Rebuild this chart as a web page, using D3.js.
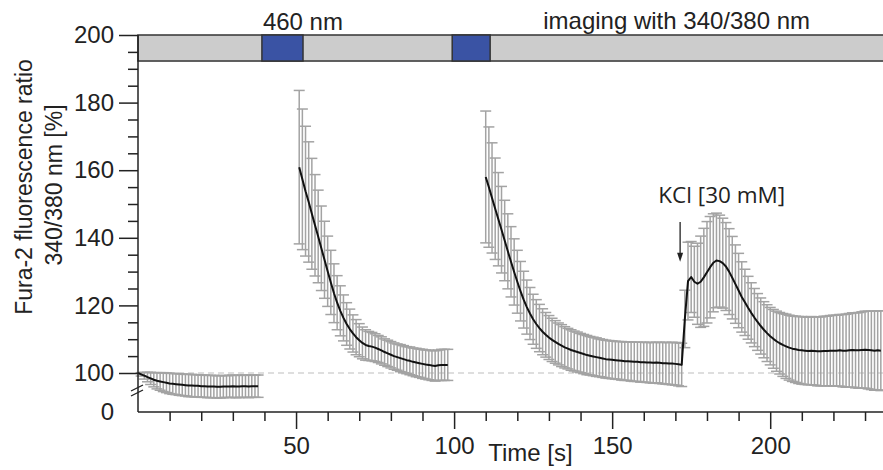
<!DOCTYPE html>
<html>
<head>
<meta charset="utf-8">
<script src="https://cdn.jsdelivr.net/npm/d3@7"></script>
<style>
body { margin: 0; background: #fff; }
svg text { font-family: "Liberation Sans", Arial, sans-serif; fill: #222; }
</style>
</head>
<body>
<div id="chart"></div>
<script>
//Recordings, one sample per second: first time point, mean ratio [%] and SD
var seg1Start = 0;
var seg1Mean = [100.0, 99.6, 99.2, 98.8, 98.4, 98.0, 97.7, 97.5, 97.3, 97.1,
	96.9, 96.8, 96.7, 96.6, 96.5, 96.4, 96.3, 96.3, 96.2, 96.2,
	96.1, 96.1, 96.0, 96.0, 96.0, 95.9, 95.9, 96.0, 96.0, 96.0,
	96.1, 96.0, 96.0, 96.1, 96.1, 96.0, 96.1, 96.1, 96.1];
var seg1Sd = [0.0, 0.5, 1.0, 1.4, 1.8, 2.1, 2.4, 2.6, 2.8, 2.9,
	3.0, 3.1, 3.1, 3.2, 3.2, 3.2, 3.3, 3.3, 3.3, 3.3,
	3.3, 3.3, 3.3, 3.3, 3.3, 3.3, 3.3, 3.3, 3.2, 3.3,
	3.3, 3.3, 3.3, 3.3, 3.3, 3.3, 3.3, 3.3, 3.3];

var seg2Start = 51;
var seg2Mean = [160.9, 157.3, 153.8, 150.6, 147.1, 143.7, 140.4, 136.9, 133.5, 130.1,
	126.8, 123.6, 120.8, 118.4, 116.3, 114.5, 113.0, 111.7, 110.6, 109.7,
	108.9, 108.3, 108.0, 107.8, 107.5, 107.1, 106.7, 106.2, 105.8, 105.4,
	105.0, 104.7, 104.4, 104.1, 103.8, 103.6, 103.3, 103.1, 102.9, 102.7,
	102.5, 102.4, 102.2, 102.1, 102.3, 102.4, 102.4, 102.4];
var seg2Sd = [22.7, 20.8, 19.2, 17.8, 16.4, 15.0, 13.7, 12.5, 11.4, 10.4,
	9.5, 8.7, 8.0, 7.4, 6.8, 6.3, 5.9, 5.5, 5.2, 4.9,
	4.7, 4.5, 4.3, 4.2, 4.1, 4.0, 4.0, 3.9, 3.9, 3.9,
	3.9, 3.9, 4.0, 4.0, 4.0, 4.1, 4.1, 4.2, 4.2, 4.3,
	4.3, 4.4, 4.4, 4.5, 4.5, 4.6, 4.6, 4.6];

var seg3Start = 110;
var seg3Mean = [158.0, 155.0, 151.8, 148.6, 145.5, 142.4, 139.2, 136.0, 132.9, 129.9,
	127.0, 124.2, 121.7, 119.5, 117.6, 115.9, 114.5, 113.3, 112.2, 111.3,
	110.5, 109.8, 109.2, 108.6, 108.1, 107.6, 107.2, 106.8, 106.5, 106.2,
	105.9, 105.6, 105.3, 105.1, 104.9, 104.7, 104.5, 104.3, 104.1, 104.0,
	103.9, 103.8, 103.7, 103.6, 103.5, 103.5, 103.4, 103.3, 103.3, 103.2,
	103.2, 103.1, 103.1, 103.0, 103.1, 103.0, 102.9, 102.9, 102.8, 102.8,
	102.7, 102.6, 102.4, 116.0, 127.2, 128.4, 127.0, 126.4, 127.0, 128.3,
	129.8, 131.3, 132.6, 133.3, 133.1, 132.5, 131.5, 130.0, 128.2, 126.3,
	124.4, 122.5, 120.9, 119.3, 117.8, 116.4, 115.1, 113.9, 112.8, 111.8,
	110.9, 110.1, 109.4, 108.8, 108.3, 107.9, 107.5, 107.2, 107.0, 106.8,
	106.7, 106.6, 106.5, 106.6, 106.5, 106.4, 106.4, 106.5, 106.5, 106.6,
	106.6, 106.6, 106.7, 106.6, 106.6, 106.7, 106.8, 106.7, 106.7, 106.8,
	106.9, 106.8, 106.7, 106.6, 106.7, 106.6];
var seg3Sd = [19.5, 17.8, 16.3, 15.0, 13.8, 12.8, 11.9, 11.1, 10.4, 9.8,
	9.3, 8.8, 8.4, 8.0, 7.7, 7.4, 7.2, 7.0, 6.8, 6.6,
	6.5, 6.4, 6.3, 6.2, 6.2, 6.1, 6.0, 6.0, 5.9, 5.9,
	5.8, 5.8, 5.8, 5.7, 5.7, 5.7, 5.6, 5.6, 5.6, 5.6,
	5.6, 5.6, 5.6, 5.7, 5.7, 5.7, 5.8, 5.8, 5.8, 5.9,
	5.9, 5.9, 6.0, 6.0, 6.0, 6.1, 6.1, 6.2, 6.2, 6.3,
	6.3, 6.4, 6.4, 8.5, 11.5, 10.5, 10.5, 12.0, 13.5, 14.5,
	15.0, 15.0, 14.5, 14.0, 13.6, 13.3, 13.0, 12.7, 12.2, 11.6,
	11.0, 10.4, 9.8, 9.3, 8.9, 8.6, 8.4, 8.3, 8.3, 8.4,
	8.5, 8.7, 8.9, 9.1, 9.3, 9.5, 9.6, 9.7, 9.8, 9.9,
	10.0, 10.0, 10.0, 10.1, 10.1, 10.2, 10.2, 10.3, 10.3, 10.4,
	10.5, 10.5, 10.6, 10.7, 10.8, 10.9, 11.0, 11.1, 11.2, 11.3,
	11.4, 11.5, 11.6, 11.7, 11.7, 11.8];

//Light protocol: 460 nm pulses (s), rest is 340/380 nm imaging
var blueStart = [39.2, 99.4];
var blueEnd = [52.2, 111.4];

//Axis ticks
var yTicks = [100, 120, 140, 160, 180, 200];
var yMinorTicks = [105, 110, 115, 125, 130, 135, 145, 150, 155, 165, 170, 175, 185, 190, 195];
var xTicks = [50, 100, 150, 200];
var xMinorTicks = [10, 20, 30, 40, 60, 70, 80, 90, 110, 120, 130, 140, 160, 170, 180, 190, 210, 220, 230];

//KCl application
var kclTime = 171.5;
var kclLabel = "KCl [30 mM]";

var width = 883, height = 470;
var x0 = 138, zeroY = 412;

var svg = d3.select('#chart').append('svg')
	.attr('width', width)
	.attr('height', height);

var x = d3.scaleLinear().domain([0, 236]).range([x0, 884]);
var y = d3.scaleLinear().domain([100, 200]).range([373, 35]);

//Join each segment's arrays into points
var segments = [[seg1Start, seg1Mean, seg1Sd], [seg2Start, seg2Mean, seg2Sd], [seg3Start, seg3Mean, seg3Sd]]
	.map(function(s) {
		if (s[1].length != s[2].length)
			throw new Error("mean/sd length mismatch at segment starting " + s[0]);
		return s[1].map(function(m, i) { return {t: s[0] + i, m: m, s: s[2][i]}; });
	});
var allPoints = [].concat.apply([], segments);

//Dashed 100% baseline
svg.append('line')
	.attr('x1', x0).attr('x2', width)
	.attr('y1', y(100)).attr('y2', y(100))
	.attr('stroke', '#bdbdbd')
	.attr('stroke-width', 1.2)
	.attr('stroke-dasharray', '6,4');

//Error bars
var capW = 5.5;
var bars = svg.append('g')
	.attr('class', 'errorbars')
	.attr('stroke', '#a3a3a3')
	.attr('stroke-width', 1.5)
	.selectAll('g')
	.data(allPoints.filter(function(d) { return d.s > 0; }))
	.enter().append('g');
bars.append('line')
	.attr('x1', function(d) { return x(d.t); })
	.attr('x2', function(d) { return x(d.t); })
	.attr('y1', function(d) { return y(d.m + d.s); })
	.attr('y2', function(d) { return y(d.m - d.s); });
bars.append('line')
	.attr('x1', function(d) { return x(d.t) - capW; })
	.attr('x2', function(d) { return x(d.t) + capW; })
	.attr('y1', function(d) { return y(d.m + d.s); })
	.attr('y2', function(d) { return y(d.m + d.s); });
bars.append('line')
	.attr('x1', function(d) { return x(d.t) - capW; })
	.attr('x2', function(d) { return x(d.t) + capW; })
	.attr('y1', function(d) { return y(d.m - d.s); })
	.attr('y2', function(d) { return y(d.m - d.s); });

//Mean traces
var line = d3.line()
	.x(function(d) { return x(d.t); })
	.y(function(d) { return y(d.m); });
svg.append('g')
	.selectAll('path')
	.data(segments)
	.enter().append('path')
	.attr('d', line)
	.attr('fill', 'none')
	.attr('stroke', '#111')
	.attr('stroke-width', 2)
	.attr('stroke-linejoin', 'round');

//Light protocol bar across the top
var barTop = y(200), barBottom = y(192.3);
svg.append('rect')
	.attr('x', x0).attr('y', barTop)
	.attr('width', width + 5 - x0).attr('height', barBottom - barTop)
	.attr('fill', '#cccccc')
	.attr('stroke', '#333')
	.attr('stroke-width', 1.5);
svg.selectAll('rect.blue')
	.data(blueStart)
	.enter().append('rect')
	.attr('class', 'blue')
	.attr('x', function(d) { return x(d); })
	.attr('y', barTop)
	.attr('width', function(d, i) { return x(blueEnd[i]) - x(d); })
	.attr('height', barBottom - barTop)
	.attr('fill', '#3a53a4')
	.attr('stroke', '#333')
	.attr('stroke-width', 1.5);
svg.append('text')
	.attr('x', x(blueStart[0]) + 1).attr('y', 30)
	.style('font-size', '24px')
	.text('460 nm');
svg.append('text')
	.attr('x', x(128.2)).attr('y', 29)
	.style('font-size', '24px')
	.text('imaging with 340/380 nm');

//Y axis (broken between 0 and 100)
var yAxis = svg.append('g')
	.attr('transform', 'translate(' + x0 + ',0)')
	.call(d3.axisLeft(y).tickValues(yTicks).tickSize(19).tickPadding(5));
svg.append('g')
	.attr('transform', 'translate(' + x0 + ',0)')
	.call(d3.axisLeft(y).tickValues(yMinorTicks).tickSize(10).tickFormat(''))
	.select('.domain').remove();
yAxis.select('.domain').remove();
svg.append('line')
	.attr('x1', x0).attr('x2', x0)
	.attr('y1', y(200)).attr('y2', zeroY)
	.attr('stroke', '#222').attr('stroke-width', 1.5);
svg.append('text')
	.attr('x', x0 - 24).attr('y', zeroY)
	.attr('dy', '0.32em')
	.attr('text-anchor', 'end')
	.style('font-size', '24px')
	.text('0');
//break marks
svg.append('g')
	.attr('stroke', '#222')
	.attr('stroke-width', 1.3)
	.selectAll('line')
	.data([0, 5])
	.enter().append('line')
	.attr('x1', x0 - 7).attr('x2', x0 + 5)
	.attr('y1', function(d) { return 391 + d; })
	.attr('y2', function(d) { return 385 + d; });

//X axis
var xAxis = svg.append('g')
	.attr('transform', 'translate(0,' + zeroY + ')')
	.call(d3.axisBottom(x).tickValues(xTicks).tickSize(17).tickPadding(8));
svg.append('g')
	.attr('transform', 'translate(0,' + zeroY + ')')
	.call(d3.axisBottom(x).tickValues(xMinorTicks).tickSize(9).tickFormat(''))
	.select('.domain').remove();
xAxis.select('.domain').remove();
svg.append('line')
	.attr('x1', x0).attr('x2', width)
	.attr('y1', zeroY).attr('y2', zeroY)
	.attr('stroke', '#222').attr('stroke-width', 1.5);

svg.selectAll('.tick line').attr('stroke', '#222').attr('stroke-width', 1.5);
svg.selectAll('.tick text')
	.attr('fill', '#222')
	.style('font-size', '24px')
	.style('font-family', '"Liberation Sans", Arial, sans-serif');

svg.append('text')
	.attr('x', x(110.8)).attr('y', 461)
	.style('font-size', '24px')
	.text('Time [s]');

//Y axis title (two lines)
svg.append('text')
	.attr('transform', 'translate(32,187) rotate(-90)')
	.attr('text-anchor', 'middle')
	.style('font-size', '23px')
	.text('Fura-2 fluorescence ratio');
svg.append('text')
	.attr('transform', 'translate(62,185) rotate(-90)')
	.attr('text-anchor', 'middle')
	.style('font-size', '23px')
	.text('340/380 nm [%]');

//KCl annotation
svg.append('text')
	.attr('x', x(164.6)).attr('y', y(150.4))
	.style('font-family', '"Open Sans", sans-serif')
	.style('font-size', '22.5px')
	.text(kclLabel);
svg.append('line')
	.attr('x1', x(kclTime)).attr('x2', x(kclTime))
	.attr('y1', y(144.7)).attr('y2', y(135))
	.attr('stroke', '#222').attr('stroke-width', 1.3);
var tipY = y(132.9), ax = x(kclTime);
svg.append('path')
	.attr('d', 'M' + (ax - 3) + ',' + (tipY - 9) + 'L' + ax + ',' + tipY + 'L' + (ax + 3) + ',' + (tipY - 9) + 'Z')
	.attr('fill', '#222');
</script>
</body>
</html>
